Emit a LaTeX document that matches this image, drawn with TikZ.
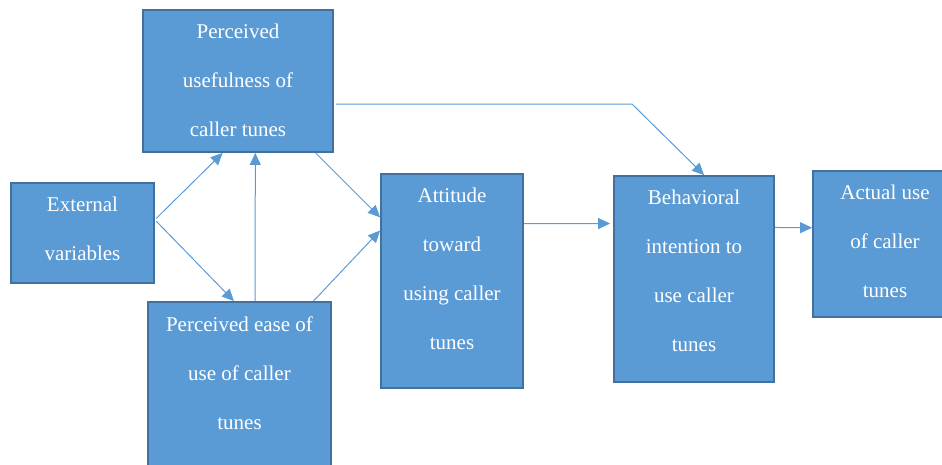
\documentclass[tikz,border=0pt]{standalone}
\usepackage{fontspec}
\setmainfont{Liberation Serif}
\usetikzlibrary{arrows.meta,calc}
\definecolor{boxblue}{HTML}{5B9BD5}
\definecolor{boxedge}{HTML}{41719C}

\begin{document}
\begin{tikzpicture}[x=1pt,y=-1pt,
        box/.style={draw=boxedge,line width=1.8pt,fill=boxblue,inner sep=0pt},
        boxtext/.style={text=white,align=center,anchor=north,inner sep=0pt,font=\fontsize{21}{49}\selectfont},
        link/.style={draw=boxblue,line width=1pt,-{Triangle[length=12pt,width=11pt]}}
    ]
    \useasboundingbox (0,0) rectangle (942,464);

    \node[box,minimum width=190pt,minimum height=142pt] (use) at (238,81) {};
    \node[boxtext] (usetext) at ($(use.north)+(0,15)$) {Perceived\\usefulness of\\caller tunes};

    \node[box,minimum width=143pt,minimum height=100pt] (ext) at (82.5,233) {};
    \node[boxtext] (exttext) at ($(ext.north)+(0,15)$) {External\\variables};

    \node[box,minimum width=183pt,minimum height=170pt] (ease) at (239.5,387) {};
    \node[boxtext] (easetext) at ($(ease.north)+(0,15)$) {Perceived ease of\\use of caller\\tunes};

    \node[box,minimum width=142pt,minimum height=214pt] (att) at (452,281) {};
    \node[boxtext] (atttext) at ($(att.north)+(0,15)$) {Attitude\\toward\\using caller\\tunes};

    \node[box,minimum width=160pt,minimum height=206pt] (bi) at (694,279) {};
    \node[boxtext] (bitext) at ($(bi.north)+(0,15)$) {Behavioral\\intention to\\use caller\\tunes};

    \node[box,minimum width=144pt,minimum height=146pt] (act) at (885,244) {};
    \node[boxtext] (acttext) at ($(act.north)+(0,15)$) {Actual use\\of caller\\tunes};

    \coordinate (bend) at (632,104);

    \draw[link,shorten <=2pt] ($(ext.north east)!0.37!(ext.south east)$) -- ($(use.south west)!0.42!(use.south east)$);
    \draw[link,shorten <=2pt] ($(ext.north east)!0.37!(ext.south east)$) -- ($(ease.north west)!0.47!(ease.north east)$);
    \draw[link] ($(ease.north west)!0.585!(ease.north east)$) -- ($(use.south west)!0.59!(use.south east)$);
    \draw[link] ($(use.south west)!0.905!(use.south east)$) -- ($(att.north west)!0.205!(att.south west)$);
    \draw[link] ($(ease.north west)!0.90!(ease.north east)$) -- ($(att.north west)!0.266!(att.south west)$);
    \draw[link,shorten >=3pt] ($(att.north east)!0.234!(att.south east)$) -- ($(bi.north west)!0.233!(bi.south west)$);
    \draw[link] ($(bi.north east)!0.252!(bi.south east)$) -- ($(act.north west)!0.39!(act.south west)$);
    \draw[link,shorten <=2pt] ($(use.north east)!0.66!(use.south east)$) -- (bend) -- ($(bi.north west)!0.5625!(bi.north east)$);

\end{tikzpicture}
\end{document}
